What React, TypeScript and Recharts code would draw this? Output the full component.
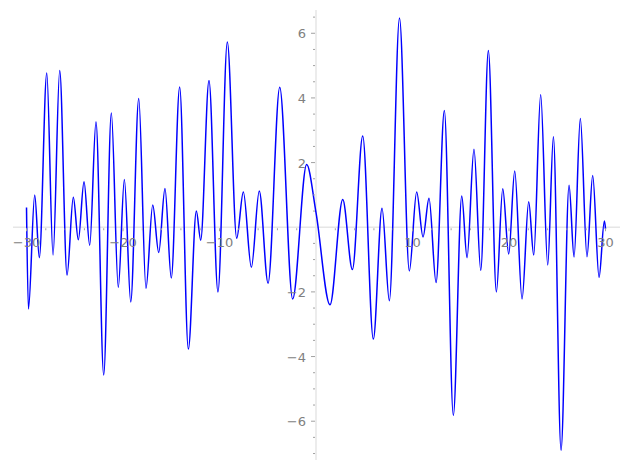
import React from 'react';
import { LineChart, Line, XAxis, YAxis, ReferenceLine, ReferenceDot } from 'recharts';

// curve samples (mostly the turning points)
const xValues = [
  -30, -29.8, -29.15, -28.67, -27.9, -27.25, -26.56, -25.8, -25.15, -24.63, -24.04, -23.45,
  -22.8, -22.0, -21.21, -20.49, -19.86, -19.2, -18.37, -17.62, -16.92, -16.3, -15.65, -15.0,
  -14.13, -13.23, -12.4, -11.95, -11.09, -10.16, -9.19, -8.22, -7.53, -6.7, -5.88, -4.97,
  -3.76, -2.42, -0.97, 0, 1.45, 2.77, 3.77, 4.84, 5.94, 6.84, 7.6, 8.65, 9.67, 10.43, 11.09,
  11.71, 12.44, 13.3, 14.23, 15.1, 15.65, 16.37, 17.07, 17.86, 18.69, 19.35, 19.97, 20.59,
  21.35, 22.04, 22.56, 23.28, 24.01, 24.6, 25.39, 26.22, 26.74, 27.39, 28.08, 28.67, 29.33,
  29.88, 30,
];
const yValues = [
  0.61, -2.53, 1.0, -0.94, 4.77, -0.86, 4.85, -1.48, 0.93, -0.39, 1.41, -0.56,
  3.26, -4.57, 3.53, -1.86, 1.48, -2.31, 3.98, -1.89, 0.69, -0.78, 1.2, -1.57,
  4.34, -3.77, 0.5, -0.4, 4.54, -2.0, 5.73, -0.34, 1.09, -1.24, 1.12, -1.73,
  4.33, -2.22, 1.94, 0.45, -2.4, 0.86, -1.31, 2.82, -3.46, 0.59, -2.27, 6.47, -1.35, 1.09, -0.3,
  0.9, -1.71, 3.61, -5.82, 0.97, -0.94, 2.41, -1.33, 5.47, -2.0, 1.19, -0.83, 1.74,
  -2.22, 0.79, -0.86, 4.1, -1.17, 2.8, -6.9, 1.3, -0.92, 3.36, -0.91, 1.6, -1.55,
  0.19, -0.05,
];

const xLabels = [-30, -20, -10, 10, 20, 30];
const xMinor = [-30, -28, -26, -24, -22, -20, -18, -16, -14, -12, -10, -8, -6, -4, -2, 2, 4, 6, 8, 10, 12, 14, 16, 18, 20, 22, 24, 26, 28, 30];
const yLabels = [-6, -4, -2, 2, 4, 6];
const yMinor = [-7, -6.5, -6, -5.5, -5, -4.5, -4, -3.5, -3, -2.5, -2, -1.5, -1, -0.5, 0.5, 1, 1.5, 2, 2.5, 3, 3.5, 4, 4.5, 5, 5.5, 6, 6.5];

const data = xValues.map((x, i) => ({ x, y: yValues[i] }));

const tickColor = '#a0a0a0';
const labelColor = '#808080';
const font = 'DejaVu Sans, sans-serif';

const fmt = (v: number) => (v < 0 ? '\u2212' + Math.abs(v) : String(v));

export default function App() {
  return (
    <div style={{ position: 'absolute', left: 0, top: 0 }}>
      <LineChart width={627} height={470} data={data} margin={{ top: 10, right: 7, bottom: 10, left: 13 }}>
        <XAxis type="number" dataKey="x" domain={[-31.4, 31.5]} hide />
        <YAxis type="number" domain={[-7.2, 6.72]} hide />
        <ReferenceLine y={0} stroke="#e6e6e6" strokeWidth={1.5} />
        <ReferenceLine x={0} stroke="#e6e6e6" strokeWidth={1.5} />
        {xMinor.map((t) => (
          <ReferenceDot
            key={'xm' + t}
            x={t}
            y={0}
            r={0}
            shape={(p: any) => (
              <line x1={p.cx} x2={p.cx} y1={p.cy + 1} y2={p.cy + (t % 10 === 0 ? 4 : 3)} stroke={tickColor} strokeWidth={1} />
            )}
          />
        ))}
        {xLabels.map((t) => (
          <ReferenceDot
            key={'xl' + t}
            x={t}
            y={0}
            r={0}
            shape={(p: any) => (
              <text x={p.cx} y={p.cy + 20} textAnchor="middle" fill={labelColor} fontSize={13} fontFamily={font}>
                {fmt(t)}
              </text>
            )}
          />
        ))}
        {yMinor.map((t) => (
          <ReferenceDot
            key={'ym' + t}
            x={0}
            y={t}
            r={0}
            shape={(p: any) => (
              <line x1={p.cx - (t % 2 === 0 ? 5 : 3)} x2={p.cx - 1} y1={p.cy} y2={p.cy} stroke={tickColor} strokeWidth={1} />
            )}
          />
        ))}
        {yLabels.map((t) => (
          <ReferenceDot
            key={'yl' + t}
            x={0}
            y={t}
            r={0}
            shape={(p: any) => (
              <text x={p.cx - 10} y={p.cy + 5} textAnchor="end" fill={labelColor} fontSize={13} fontFamily={font}>
                {fmt(t)}
              </text>
            )}
          />
        ))}
        <Line type="monotone" dataKey="y" stroke="#0000ff" strokeWidth={1.5} dot={false} isAnimationActive={false} />
      </LineChart>
    </div>
  );
}
